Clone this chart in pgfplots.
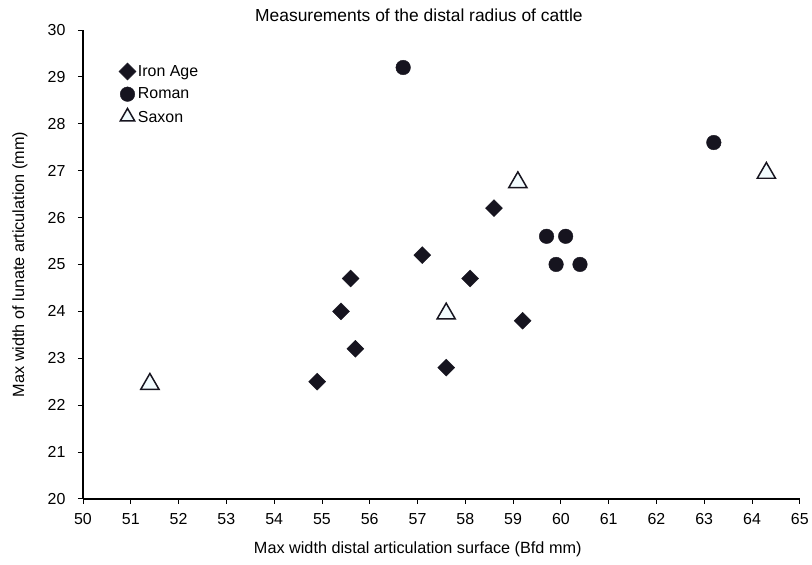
\documentclass[border=0pt]{standalone}
\usepackage{fontspec}
\setmainfont{Liberation Sans}
\usepackage{pgfplots}
\pgfplotsset{compat=1.18}
\definecolor{markdark}{HTML}{16141F}
\pgfplotsset{smalltri legend/.style={legend image code/.code={\draw[#1, mark size=8.3bp] plot coordinates {(0.2cm,0.05cm)};}}}
\begin{document}
\begin{tikzpicture}[x=1bp,y=1bp]
\begin{axis}[
  name=ax,
  at={(0,0)}, anchor=south west,
  scale only axis,
  width=717bp, height=469bp,
  xmin=50, xmax=65, ymin=20, ymax=30,
  xtick={50,...,65}, ytick={20,...,30},
  axis lines*=left,
  axis line style={line width=1.3pt},
  tick align=outside,
  major tick length=5bp,
  tick style={line width=0.8pt, black},
  /pgf/number format/assume math mode=true,
  ticklabel style={font=\fontsize{16}{18}\selectfont},
  yticklabel style={xshift=-9bp},
  xticklabel style={yshift=-6bp},
  xlabel={Max width distal articulation surface (Bfd mm)},
  ylabel={Max width of lunate articulation (mm)},
  xlabel style={font=\fontsize{16.3}{18}\selectfont, at={(axis description cs:0.467,-0.1066)}, anchor=center},
  ylabel style={font=\fontsize{16.3}{18}\selectfont, at={(axis description cs:-0.0879,0.5)}, anchor=center},
  title={Measurements of the distal radius of cattle},
  title style={font=\fontsize{17.5}{19}\selectfont, at={(axis description cs:0.4686,1.0299)}, anchor=center, yshift=-5bp},
  legend style={draw=none, fill=none, at={(axis cs:50.75,29.3)}, anchor=north west,
    font=\fontsize{16}{18}\selectfont, row sep=6bp, inner sep=0pt,
    legend cell align=left},
  legend image code/.code={\draw[#1] plot coordinates {(0.2cm,0cm)};},
  clip=false,
]
\addplot[only marks, mark=square*, mark size=6bp, mark options={rotate=45, fill=markdark, draw=markdark}] coordinates {
(54.9,22.5) (55.4,24.0) (55.6,24.7) (55.7,23.2) (57.1,25.2)
(57.6,22.8) (58.1,24.7) (58.6,26.2) (59.2,23.8)
};
\addlegendentry{Iron Age}
\addplot[only marks, mark=*, mark size=7.3bp, mark options={fill=markdark, draw=markdark}] coordinates {
(56.7,29.2) (59.7,25.6) (60.1,25.6) (59.9,25.0) (60.4,25.0) (63.2,27.6)
};
\addlegendentry{Roman}
\addplot[only marks, mark=triangle*, mark size=10.5bp, mark options={fill=cyan!5, draw=markdark, line width=1.5pt}, smalltri legend] coordinates {
(51.4,22.45) (57.6,23.95) (59.1,26.75) (64.3,26.95)
};
\addlegendentry{Saxon}
\end{axis}
\path (-83bp,-66bp) rectangle (729bp,499bp);
\end{tikzpicture}
\end{document}
